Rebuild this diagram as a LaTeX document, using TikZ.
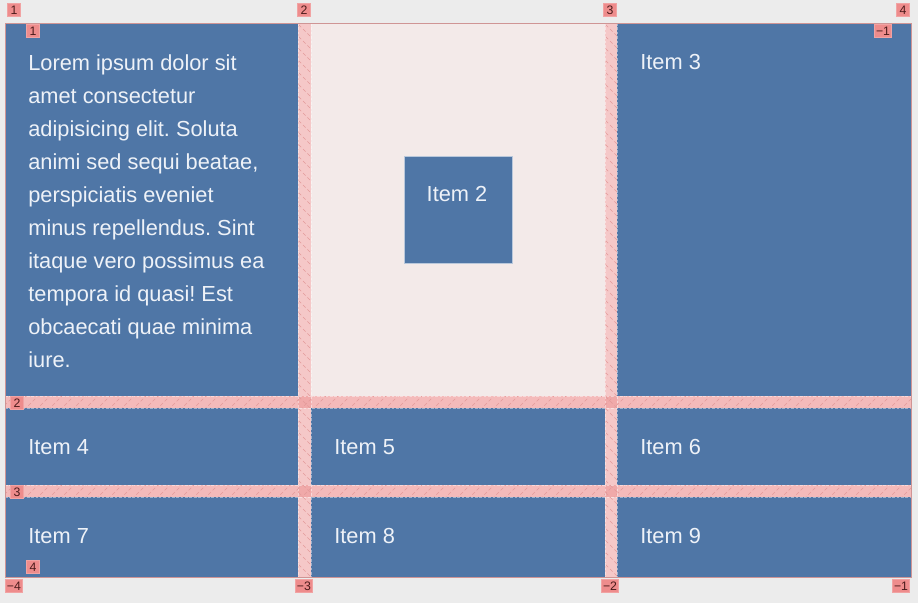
\documentclass[tikz,border=0pt]{standalone}
\usepackage{fontspec}
\setmainfont{Liberation Sans}
\usepackage{xcolor}
\usetikzlibrary{positioning}
\frenchspacing

\definecolor{pagegray}{HTML}{ECECEC}
\definecolor{cellblue}{HTML}{4F76A6}
\definecolor{palebg}{HTML}{F3EAE9}
\definecolor{rowgap}{HTML}{F4BABA}
\definecolor{colgap}{HTML}{F5C8C8}
\definecolor{crossgap}{HTML}{F0A9A9}
\definecolor{hatchred}{HTML}{E39A9A}
\definecolor{badgered}{HTML}{EE8C8C}
\definecolor{badgetext}{HTML}{4A1A1A}
\definecolor{itemwhite}{HTML}{EEF2F8}

\begin{document}
\begin{tikzpicture}[x=0.02cm,y=-0.02cm,
  itemtext/.style={text=itemwhite,font=\fontsize{12.4}{18.8}\selectfont,inner sep=0pt},
  badge/.style={fill=badgered,draw=badgered!80!white,text=badgetext,
    font=\fontsize{7}{7}\selectfont,inner sep=1pt,
    minimum width=0.26cm,minimum height=0.27cm},
  hatch/.style={hatchred,line width=0.35pt,dash pattern=on 2pt off 1.5pt}]
\useasboundingbox (0,0) rectangle (918,603);
\fill[pagegray] (0,0) rectangle (918,603);
% container and cells
\fill[palebg] (5,23) rectangle (911,577);
\fill[cellblue] (5,23) rectangle (298,396);
\fill[cellblue] (617,23) rectangle (911,396);
\fill[cellblue] (5,408) rectangle (298,485);
\fill[cellblue] (311,408) rectangle (605,485);
\fill[cellblue] (617,408) rectangle (911,485);
\fill[cellblue] (5,497) rectangle (298,577);
\fill[cellblue] (311,497) rectangle (605,577);
\fill[cellblue] (617,497) rectangle (911,577);
% gaps
\fill[colgap] (298,23) rectangle (311,577);
\fill[colgap] (605,23) rectangle (617,577);
\fill[rowgap] (5,396) rectangle (911,408);
\fill[rowgap] (5,485) rectangle (911,497);
\fill[crossgap] (298,396) rectangle (311,408);
\fill[crossgap] (605,396) rectangle (617,408);
\fill[crossgap] (298,485) rectangle (311,497);
\fill[crossgap] (605,485) rectangle (617,497);
\begin{scope}
\clip (298,23) rectangle (311,577) (605,23) rectangle (617,577);
\foreach \d in {-20,-8,...,580} \draw[hatch] (290,\d) -- ++(30,30) (597,\d) -- ++(30,30);
\end{scope}
\begin{scope}
\clip (5,396) rectangle (911,408) (5,485) rectangle (911,497);
\foreach \d in {0,12,...,930} \draw[hatch] (\d,410) -- ++(14,-14) (\d,499) -- ++(14,-14);
\end{scope}
\draw[white,opacity=0.45,line width=0.3pt,dash pattern=on 1.5pt off 1pt]
  (298,23) -- (298,577) (311,23) -- (311,577) (605,23) -- (605,577) (617,23) -- (617,577)
  (5,396) -- (911,396) (5,408) -- (911,408) (5,485) -- (911,485) (5,497) -- (911,497);
\draw[hatchred!80!gray,line width=0.5pt] (5,23) rectangle (911,577);
% items
\node[itemtext,anchor=north west,align=left] (item1) at (28,54)
  {Lorem ipsum dolor sit\\amet consectetur\\adipisicing elit. Soluta\\animi sed sequi beatae,\\perspiciatis eveniet\\minus repellendus. Sint\\itaque vero possimus ea\\tempora id quasi! Est\\obcaecati quae minima\\iure.};
\node[fill=cellblue,draw=cellblue!40!white,line width=0.5pt,minimum width=2.16cm,minimum height=2.14cm] (box2) at (458,209.5) {};
\node[itemtext] (item2) at (457,194) {Item 2};
\node[itemtext,anchor=west] (item3) at (640,62) {Item 3};
\node[itemtext,anchor=west] (item4) at (28,447) {Item 4};
\node[itemtext,anchor=west] (item5) at (334,447) {Item 5};
\node[itemtext,anchor=west] (item6) at (640,447) {Item 6};
\node[itemtext,anchor=west] (item7) at (28,536) {Item 7};
\node[itemtext,anchor=west] (item8) at (334,536) {Item 8};
\node[itemtext,anchor=west] (item9) at (640,536) {Item 9};
% line numbers
\node[badge] (top1) at (14,10) {1};
\node[badge] (top2) at (304,10) {2};
\node[badge] (top3) at (610,10) {3};
\node[badge] (top4) at (903,10) {4};
\node[badge] (bot4) at (14,586) {−4};
\node[badge] (bot3) at (304,586) {−3};
\node[badge] (bot2) at (610,586) {−2};
\node[badge] (bot1) at (901,586) {−1};
\node[badge] (left1) at (33,31) {1};
\node[badge] (left2) at (17,403) {2};
\node[badge] (left3) at (17,492) {3};
\node[badge] (left4) at (33,567) {4};
\node[badge] (right1) at (883,31) {−1};
\end{tikzpicture}
\end{document}
